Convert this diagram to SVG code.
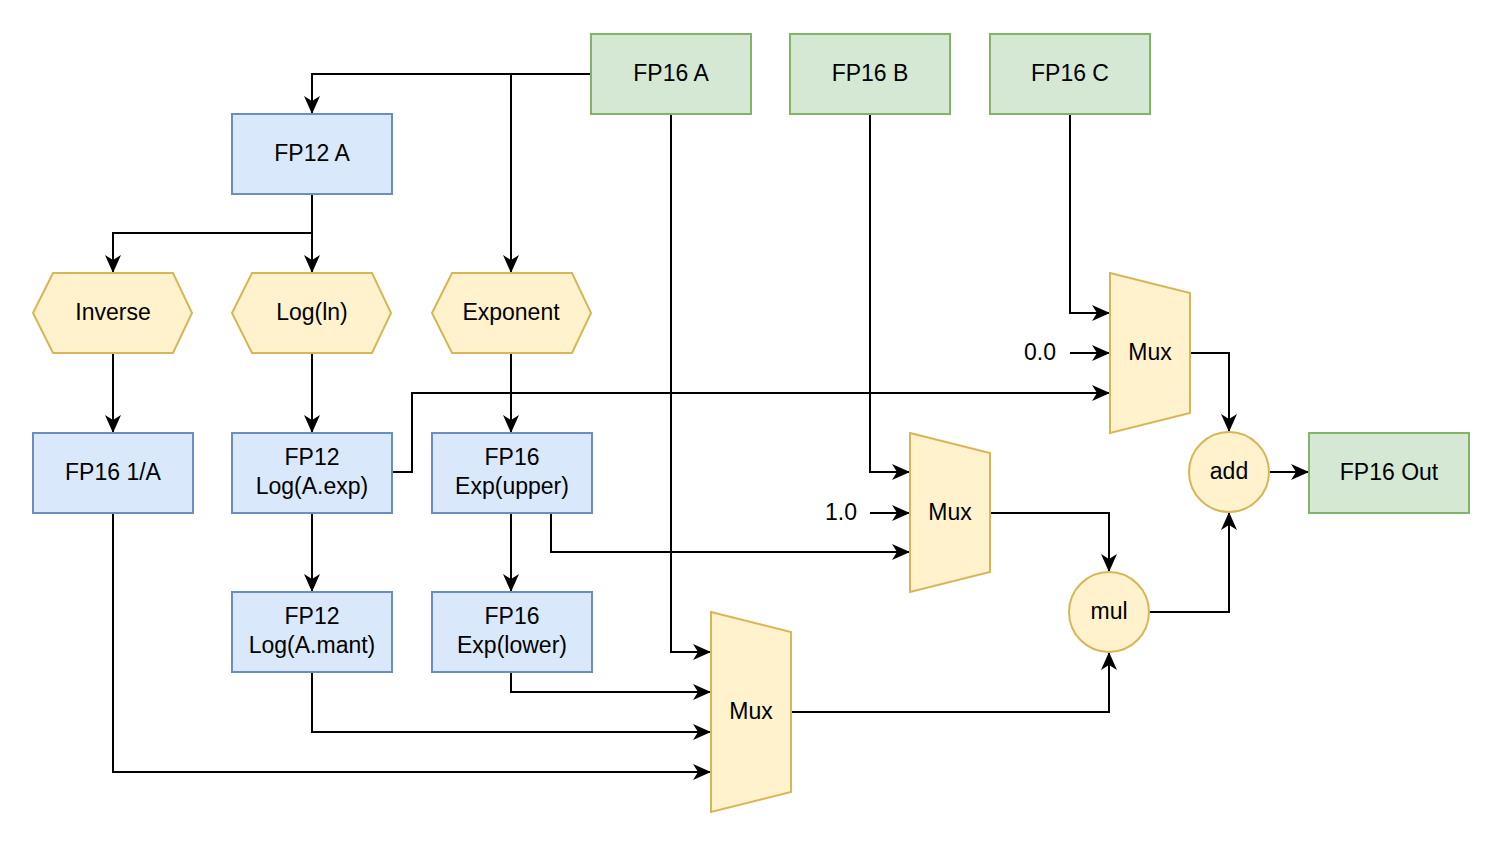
<svg xmlns="http://www.w3.org/2000/svg" width="1500" height="843" viewBox="0 0 1500 843">
<defs>
<marker id="arr" viewBox="0 0 18 16" refX="17" refY="8" markerWidth="18" markerHeight="16" markerUnits="userSpaceOnUse" orient="auto">
<path d="M0,0 L18,8 L0,16 L5,8 Z" fill="#000"/>
</marker>
<style>
text{font-family:"Liberation Sans",Arial,Helvetica,sans-serif;font-size:23px;fill:#000;text-anchor:middle;dominant-baseline:central}
.g{fill:#d5e8d4;stroke:#82b366;stroke-width:2}
.b{fill:#dae8fc;stroke:#6c8ebf;stroke-width:2}
.y{fill:#fff2cc;stroke:#d6b656;stroke-width:2}
.c path{fill:none;stroke:#000;stroke-width:2;marker-end:url(#arr)}
</style>
</defs>
<rect width="1500" height="843" fill="#fff"/>
<g class="c" id="connectors">
<path d="M591,74 H312 V113"/>
<path d="M591,74 H511 V272"/>
<path d="M671,114 V652 H710"/>
<path d="M870,114 V472 H909"/>
<path d="M1070,114 V313 H1109"/>
<path d="M1070,353 H1109"/>
<path d="M312,194 V272"/>
<path d="M312,233 H113 V272"/>
<path d="M113,353 V432"/>
<path d="M312,353 V432"/>
<path d="M511,353 V432"/>
<path d="M392,472 H412 V393 H1109"/>
<path d="M312,513 V591"/>
<path d="M511,513 V591"/>
<path d="M551,513 V552 H909"/>
<path d="M870,513 H909"/>
<path d="M990,513 H1109 V571"/>
<path d="M1190,353 H1229 V431"/>
<path d="M1269,472 H1308"/>
<path d="M1149,612 H1229 V513"/>
<path d="M511,672 V692 H710"/>
<path d="M312,672 V732 H710"/>
<path d="M113,513 V772 H710"/>
<path d="M791,712 H1109 V653"/>
</g>
<g id="fp16a"><rect class="g" x="591" y="34" width="160" height="80"/><text x="671" y="73">FP16 A</text></g>
<g id="fp16b"><rect class="g" x="790" y="34" width="160" height="80"/><text x="870" y="73">FP16 B</text></g>
<g id="fp16c"><rect class="g" x="990" y="34" width="160" height="80"/><text x="1070" y="73">FP16 C</text></g>
<g id="fp12a"><rect class="b" x="232" y="114" width="160" height="80"/><text x="312" y="153">FP12 A</text></g>
<g id="inverse"><polygon class="y" points="33,313 53,273 173,273 192,313 173,353 53,353"/><text x="113" y="312">Inverse</text></g>
<g id="logln"><polygon class="y" points="232,313 252,273 372,273 391,313 372,353 252,353"/><text x="312" y="312">Log(ln)</text></g>
<g id="exponent"><polygon class="y" points="432,313 452,273 572,273 591,313 572,353 452,353"/><text x="511" y="312">Exponent</text></g>
<g id="fp16inv"><rect class="b" x="33" y="433" width="160" height="80"/><text x="113" y="472">FP16 1/A</text></g>
<g id="logexp"><rect class="b" x="232" y="433" width="160" height="80"/><text x="312" y="457">FP12</text><text x="312" y="486">Log(A.exp)</text></g>
<g id="expupper"><rect class="b" x="432" y="433" width="160" height="80"/><text x="512" y="457">FP16</text><text x="512" y="486">Exp(upper)</text></g>
<g id="logmant"><rect class="b" x="232" y="592" width="160" height="80"/><text x="312" y="616">FP12</text><text x="312" y="645">Log(A.mant)</text></g>
<g id="explower"><rect class="b" x="432" y="592" width="160" height="80"/><text x="512" y="616">FP16</text><text x="512" y="645">Exp(lower)</text></g>
<g id="mux1"><polygon class="y" points="1110,273 1190,293 1190,413 1110,433"/><text x="1150" y="352">Mux</text></g>
<g id="mux2"><polygon class="y" points="910,433 990,453 990,572 910,592"/><text x="950" y="512">Mux</text></g>
<g id="mux3"><polygon class="y" points="711,612 791,632 791,792 711,812"/><text x="751" y="711">Mux</text></g>
<g id="c00"><text x="1040" y="352">0.0</text></g>
<g id="c10"><text x="841" y="512">1.0</text></g>
<g id="add"><circle class="y" cx="1229" cy="472" r="40"/><text x="1229" y="471">add</text></g>
<g id="mul"><circle class="y" cx="1109" cy="612" r="40"/><text x="1109" y="611">mul</text></g>
<g id="out"><rect class="g" x="1309" y="433" width="160" height="80"/><text x="1389" y="472">FP16 Out</text></g>
</svg>
